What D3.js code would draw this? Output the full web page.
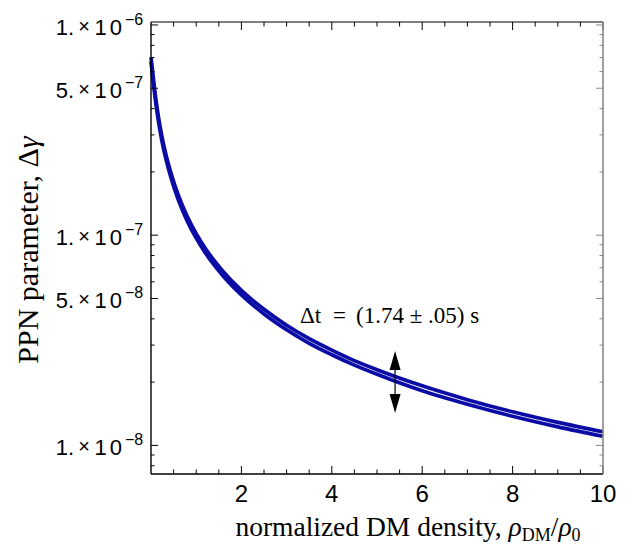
<html>
<head>
<script src="https://cdn.jsdelivr.net/npm/d3@7"></script>
<style>
  body { margin: 0; background: #fff; }
</style>
</head>
<body>
<div id="chart"></div>
<script>
// density values (rho_DM / rho_0)
var xs = [0, 0.04, 0.08, 0.16, 0.24, 0.32, 0.45, 0.6, 0.8, 1.0, 1.2, 1.4, 1.6, 2.0, 2.5, 3.0, 3.5, 4.0, 4.5, 5.0, 6.0, 7.0, 8.0, 9.0, 10];
// delta gamma for the upper and lower edge of dt = 1.74 +- .05 s
var gammaHigh = [7.02e-7, 5.89e-7, 4.94e-7, 3.71e-7, 2.96e-7, 2.47e-7, 1.95e-7, 1.56e-7, 1.23e-7, 1.017e-7, 8.67e-8, 7.56e-8, 6.70e-8, 5.46e-8, 4.44e-8, 3.73e-8, 3.22e-8, 2.84e-8, 2.53e-8, 2.29e-8, 1.92e-8, 1.65e-8, 1.445e-8, 1.287e-8, 1.161e-8];
var gammaLow = [6.68e-7, 5.61e-7, 4.70e-7, 3.53e-7, 2.82e-7, 2.35e-7, 1.85e-7, 1.48e-7, 1.17e-7, 9.68e-8, 8.25e-8, 7.20e-8, 6.38e-8, 5.20e-8, 4.22e-8, 3.55e-8, 3.06e-8, 2.70e-8, 2.41e-8, 2.18e-8, 1.82e-8, 1.57e-8, 1.376e-8, 1.225e-8, 1.105e-8];

var xTickVals = [2, 4, 6, 8, 10];
var yTickVals = [1e-6, 5e-7, 1e-7, 5e-8, 1e-8];
var yTickMant = ["1.", "5.", "1.", "5.", "1."];
var yTickExp = ["\u22126", "\u22127", "\u22127", "\u22128", "\u22128"];

var width = 628, height = 548;
var margin = {top: 22, right: 25, bottom: 74, left: 151};

var svg = d3.select("#chart").append("svg")
    .attr("width", width)
    .attr("height", height);

var x = d3.scaleLinear()
    .domain([0, 10])
    .range([margin.left, width - margin.right]);
var y = d3.scaleLog()
    .domain([7.31e-9, 1.033e-6])
    .range([height - margin.bottom, margin.top]);

var x0 = x.range()[0], x1 = x.range()[1];
var y0 = y.range()[0], y1 = y.range()[1];

// minor ticks
var xMinor = d3.range(0.5, 10, 0.5).filter(function(d) { return d % 2 != 0; });
var yMinor = [];
[1e-9, 1e-8, 1e-7].forEach(function(dec) {
    for (var k = 2; k <= 9; k++) {
        if (k != 5) yMinor.push(k * dec);
    }
});
yMinor = yMinor.filter(function(d) { return d > y.domain()[0] && d < y.domain()[1]; });

var g = svg.append("g");

// curves
var line = d3.line()
    .x(function(d) { return x(d[0]); })
    .y(function(d) { return y(d[1]); })
    .curve(d3.curveMonotoneX);

[gammaHigh, gammaLow].forEach(function(s) {
    g.append("path")
        .datum(xs.map(function(v, i) { return [v, s[i]]; }))
        .attr("fill", "none")
        .attr("stroke", "#0b0ba6")
        .attr("stroke-width", 3.7)
        .attr("d", line);
});

// frame ticks
function tick(x1_, y1_, x2_, y2_, col) {
    g.append("line").attr("x1", x1_).attr("y1", y1_).attr("x2", x2_).attr("y2", y2_)
        .attr("stroke", col).attr("stroke-width", 1);
}
xTickVals.forEach(function(d) {
    tick(x(d), y0, x(d), y0 - 8, "#000");
    tick(x(d), y1, x(d), y1 + 8, "#000");
});
xMinor.forEach(function(d) {
    tick(x(d), y0, x(d), y0 - 4.5, "#000");
    tick(x(d), y1, x(d), y1 + 4.5, "#000");
});
yTickVals.forEach(function(d) {
    tick(x0, y(d), x0 + 7, y(d), "#000");
    tick(x1, y(d), x1 - 7, y(d), "#888");
});
yMinor.forEach(function(d) {
    tick(x0, y(d), x0 + 3.5, y(d), "#000");
    tick(x1, y(d), x1 - 3.5, y(d), "#888");
});

// frame
g.append("line").attr("x1", x0).attr("x2", x1).attr("y1", y0).attr("y2", y0).attr("stroke", "#000").attr("stroke-width", 1.4);
g.append("line").attr("x1", x0).attr("x2", x1).attr("y1", y1).attr("y2", y1).attr("stroke", "#000").attr("stroke-width", 1.2);
g.append("line").attr("x1", x0).attr("x2", x0).attr("y1", y0).attr("y2", y1).attr("stroke", "#000").attr("stroke-width", 1.4);
g.append("line").attr("x1", x1).attr("x2", x1).attr("y1", y0).attr("y2", y1).attr("stroke", "#888").attr("stroke-width", 1.6);

// tick labels
var sans = "'Liberation Sans', Arial, sans-serif";
svg.selectAll(".xlab").data(xTickVals).enter().append("text")
    .attr("x", function(d) { return x(d); })
    .attr("y", y0 + 28)
    .attr("text-anchor", "middle")
    .style("font-family", sans)
    .style("font-size", "24px")
    .text(function(d) { return d; });

// y labels: mantissa, times sign, 10, superscript exponent as separate pieces
var yLab = svg.selectAll(".ylab").data(yTickVals).enter().append("g")
    .attr("transform", function(d) { return "translate(" + (x0 - 26) + "," + y(d) + ")"; })
    .style("font-family", sans);
yLab.append("text").attr("x", -51).attr("y", 10).attr("text-anchor", "end")
    .style("font-size", "22px").text(function(d, i) { return yTickMant[i]; });
yLab.append("text").attr("x", -41).attr("y", 8).attr("text-anchor", "middle")
    .style("font-size", "20px").text("\u00d7");
yLab.append("text").attr("x", 0).attr("y", 10).attr("text-anchor", "end")
    .style("font-size", "22px").style("letter-spacing", "3px").text("10");
yLab.append("text").attr("x", 0).attr("y", 0).attr("text-anchor", "start")
    .style("font-size", "16px").text(function(d, i) { return yTickExp[i]; });

// axis titles
var serif = "'Liberation Serif', 'Times New Roman', serif";
var xt = svg.append("text")
    .attr("x", 408)
    .attr("y", 536)
    .attr("text-anchor", "middle")
    .style("font-family", serif)
    .style("font-size", "27.5px");
xt.append("tspan").text("normalized DM density, ");
xt.append("tspan").style("font-style", "italic").text("\u03c1");
xt.append("tspan").attr("dy", 5).style("font-size", "18px").text("DM");
xt.append("tspan").attr("dy", -5).text("/");
xt.append("tspan").style("font-style", "italic").text("\u03c1");
xt.append("tspan").attr("dy", 5).style("font-size", "18px").text("0");

var ytt = svg.append("text")
    .attr("transform", "translate(38,250) rotate(-90)")
    .attr("text-anchor", "middle")
    .style("font-family", serif)
    .style("font-size", "30px");
ytt.append("tspan").text("PPN parameter, \u0394");
ytt.append("tspan").style("font-style", "italic").text("\u03b3");

// annotation
var ann = svg.append("text")
    .attr("y", 323)
    .style("font-family", serif)
    .style("font-size", "23px");
ann.append("tspan").attr("x", 300).text("\u0394t");
ann.append("tspan").attr("x", 333).text("=");
ann.append("tspan").attr("x", 356).text("(1.74 \u00b1 .05) s");

var ax = x(5.4), aTop = 351, aBot = 413;
svg.append("line").attr("x1", ax).attr("x2", ax).attr("y1", aTop + 10).attr("y2", aBot - 10)
    .attr("stroke", "#000").attr("stroke-width", 1.2);
svg.append("path").attr("d", "M" + ax + "," + aTop + " L" + (ax - 5.5) + "," + (aTop + 19) + " L" + (ax + 5.5) + "," + (aTop + 19) + "Z").attr("fill", "#000");
svg.append("path").attr("d", "M" + ax + "," + aBot + " L" + (ax - 5.5) + "," + (aBot - 19) + " L" + (ax + 5.5) + "," + (aBot - 19) + "Z").attr("fill", "#000");
</script>
</body>
</html>
